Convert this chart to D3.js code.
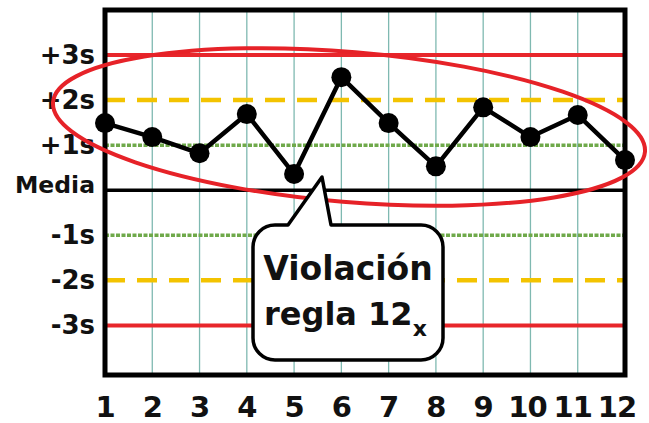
<!DOCTYPE html>
<html>
<head>
<meta charset="utf-8">
<script src="https://cdn.jsdelivr.net/npm/d3@7"></script>
<style>
  html, body { margin: 0; padding: 0; background: #ffffff; }
  svg { display: block; }
  text { font-family: "DejaVu Sans", "Liberation Sans", Arial, sans-serif; font-weight: bold; fill: #111; }
</style>
</head>
<body>
<svg id="chart" width="649" height="423"></svg>
<script>
// ---- Data ----
const categories = [1, 2, 3, 4, 5, 6, 7, 8, 9, 10, 11, 12];
const values = [1.49, 1.18, 0.82, 1.69, 0.36, 2.51, 1.49, 0.53, 1.84, 1.18, 1.67, 0.67];
const limitLevels = [3, 2, 1, 0, -1, -2, -3];
const limitLabels = ["+3s", "+2s", "+1s", "Media", "-1s", "-2s", "-3s"];
const calloutLines = ["Violación", "regla 12"];
const calloutSub = "x";

// ---- Layout ----
const plotLeft = 105, plotRight = 625, plotTop = 10, plotBottom = 375;
const svg = d3.select("#chart");

const x = d3.scaleLinear().domain([1, 12]).range([plotLeft, plotRight]);
const y = d3.scaleLinear().domain([-4.1, 4]).range([plotBottom, plotTop]);

// vertical grid lines
svg.append("g").selectAll("line")
  .data(categories)
  .join("line")
  .attr("x1", d => x(d)).attr("x2", d => x(d))
  .attr("y1", plotTop).attr("y2", plotBottom)
  .attr("stroke", "#7fb9b1").attr("stroke-width", 1.3);

// control limit lines
const limitStyle = {
  3: { c: "#e8262b", w: 4, dash: null },
  2: { c: "#f3c300", w: 4.5, dash: "20,12" },
  1: { c: "#6fa94a", w: 3.5, dash: "4,1.5" },
  0: { c: "#000000", w: 3.5, dash: null },
  "-1": { c: "#6fa94a", w: 3.5, dash: "4,1.5" },
  "-2": { c: "#f3c300", w: 4.5, dash: "20,12" },
  "-3": { c: "#e8262b", w: 4, dash: null }
};
svg.append("g").selectAll("line")
  .data(limitLevels)
  .join("line")
  .attr("x1", plotLeft).attr("x2", plotRight)
  .attr("y1", d => y(d)).attr("y2", d => y(d))
  .attr("stroke", d => limitStyle[d].c)
  .attr("stroke-width", d => limitStyle[d].w)
  .attr("stroke-dasharray", d => limitStyle[d].dash);

// y labels
svg.append("g").selectAll("text")
  .data(limitLevels)
  .join("text")
  .attr("x", 95)
  .attr("y", (d, i) => y(d) + (limitLabels[i] === "Media" ? 3 : 9))
  .attr("text-anchor", "end")
  .attr("font-size", (d, i) => limitLabels[i] === "Media" ? 23.5 : 26)
  .text((d, i) => limitLabels[i]);

// x labels
svg.append("g").selectAll("text")
  .data(categories)
  .join("text")
  .attr("x", d => x(d) + (d === 12 ? -8 : d === 11 ? -5 : d === 10 ? -3 : 0))
  .attr("y", 417)
  .attr("text-anchor", "middle")
  .attr("font-size", 29)
  .attr("letter-spacing", -1)
  .text(d => d);

// data line
const line = d3.line().x((d, i) => x(categories[i])).y(d => y(d));
svg.append("path")
  .datum(values)
  .attr("d", line)
  .attr("fill", "none")
  .attr("stroke", "#000")
  .attr("stroke-width", 4.5)
  .attr("stroke-linejoin", "round");

// frame
svg.append("rect")
  .attr("x", plotLeft).attr("y", plotTop)
  .attr("width", plotRight - plotLeft).attr("height", plotBottom - plotTop)
  .attr("fill", "none").attr("stroke", "#000").attr("stroke-width", 5);

// points
svg.append("g").selectAll("circle")
  .data(values)
  .join("circle")
  .attr("cx", (d, i) => x(categories[i]))
  .attr("cy", d => y(d))
  .attr("r", 10)
  .attr("fill", "#000");

// ellipse annotation
svg.append("ellipse")
  .attr("cx", 349).attr("cy", 127)
  .attr("rx", 297).attr("ry", 75)
  .attr("transform", "rotate(4.8 349 127)")
  .attr("fill", "none")
  .attr("stroke", "#e62228")
  .attr("stroke-width", 4);

// callout
const bx0 = 253, bx1 = 443, by0 = 225, by1 = 360, rr = 22;
const tailL = 288, tailR = 331, tipX = 322, tipY = 177;
const p = d3.path();
p.moveTo(bx0 + rr, by0);
p.lineTo(tailL, by0);
p.lineTo(tipX, tipY);
p.lineTo(tailR, by0);
p.lineTo(bx1 - rr, by0);
p.arcTo(bx1, by0, bx1, by0 + rr, rr);
p.lineTo(bx1, by1 - rr);
p.arcTo(bx1, by1, bx1 - rr, by1, rr);
p.lineTo(bx0 + rr, by1);
p.arcTo(bx0, by1, bx0, by1 - rr, rr);
p.lineTo(bx0, by0 + rr);
p.arcTo(bx0, by0, bx0 + rr, by0, rr);
p.closePath();
svg.append("path")
  .attr("d", p.toString())
  .attr("fill", "#fff")
  .attr("stroke", "#000")
  .attr("stroke-width", 3.5)
  .attr("stroke-linejoin", "round");

svg.append("text")
  .attr("x", 348).attr("y", 280)
  .attr("text-anchor", "middle")
  .attr("font-size", 33)
  .text(calloutLines[0]);

const t2 = svg.append("text")
  .attr("x", 264).attr("y", 325)
  .attr("font-size", 32);
t2.append("tspan").text(calloutLines[1]);
t2.append("tspan").attr("font-size", 22).attr("dy", 11).text(calloutSub);
</script>
</body>
</html>
